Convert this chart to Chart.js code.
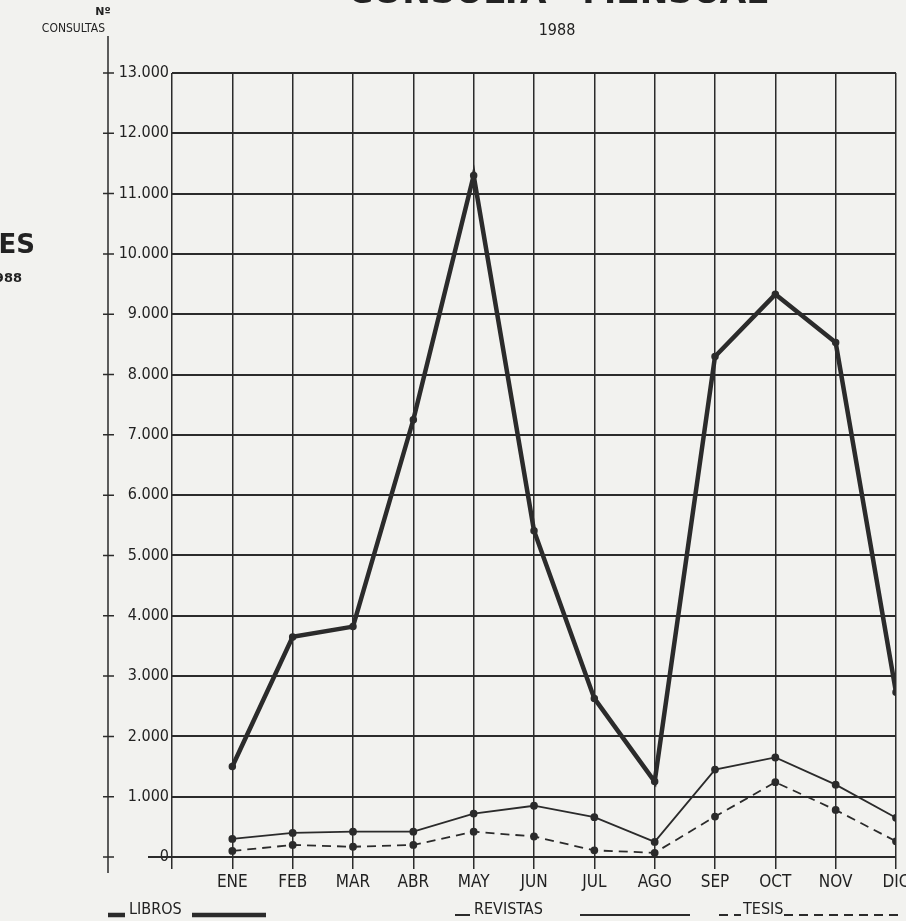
<!DOCTYPE html>
<html>
<head>
<meta charset="utf-8">
<script src="https://cdn.jsdelivr.net/npm/chart.js@4.4.0/dist/chart.umd.min.js"></script>
<style>
  html, body { margin: 0; padding: 0; background: #f2f2ef; }
  #caja { position: relative; width: 906px; height: 921px; }
</style>
</head>
<body>
<div id="caja"><canvas id="grafica"></canvas></div>
<script>
// Datos (consultas por mes, 1988)
const meses = ['ENE', 'FEB', 'MAR', 'ABR', 'MAY', 'JUN', 'JUL', 'AGO', 'SEP', 'OCT', 'NOV', 'DIC'];
const libros = [1500, 3650, 3820, 7250, 11300, 5410, 2630, 1250, 8300, 9330, 8530, 2730];
const revistas = [300, 400, 420, 420, 720, 850, 660, 250, 1450, 1650, 1200, 650];
const tesis = [100, 200, 170, 200, 420, 340, 110, 70, 670, 1240, 780, 260];
const etiquetasY = ['0', '1.000', '2.000', '3.000', '4.000', '5.000', '6.000', '7.000',
                    '8.000', '9.000', '10.000', '11.000', '12.000', '13.000'];

const tinta = '#2b2b2b';
const letra = '"Liberation Sans Narrow", "DejaVu Sans Condensed", "Liberation Sans", sans-serif';

// Convierte una serie en puntos {x, y} (x = número de mes)
function aPuntos(serie) {
    return serie.map((v, i) => ({ x: i + 1, y: v }));
}

// Textos sueltos, eje vertical separado y leyenda dibujada a mano
const decoracion = {
    id: 'decoracion',
    beforeDraw(chart) {
        const ctx = chart.ctx;
        ctx.save();
        ctx.fillStyle = '#f2f2ef';
        ctx.fillRect(0, 0, chart.width, chart.height);
        ctx.restore();
    },
    afterDraw(chart) {
        const ctx = chart.ctx;
        const ejeY = chart.scales.y;
        const area = chart.chartArea;
        ctx.save();
        ctx.strokeStyle = tinta;
        ctx.fillStyle = '#222';

        // eje vertical con sus cruces
        ctx.lineWidth = 1.5;
        ctx.beginPath();
        ctx.moveTo(108, 36);
        ctx.lineTo(108, 873);
        ejeY.ticks.forEach(t => {
            const py = ejeY.getPixelForValue(t.value);
            ctx.moveTo(103, py);
            ctx.lineTo(114, py);
        });
        ctx.stroke();

        // prolongación de la línea del cero
        ctx.lineWidth = 2;
        ctx.beginPath();
        const y0 = ejeY.getPixelForValue(0);
        ctx.moveTo(148, y0);
        ctx.lineTo(area.left, y0);
        ctx.stroke();

        // título (cortado por el borde superior)
        ctx.save();
        ctx.font = 'bold 34px "DejaVu Sans", sans-serif';
        ctx.textBaseline = 'alphabetic';
        ctx.textAlign = 'left';
        const titulo = 'CONSULTA   MENSUAL';
        const ancho = ctx.measureText(titulo).width;
        ctx.translate(348, 3);
        ctx.scale(420 / ancho, 1);
        ctx.fillText(titulo, 0, 0);
        ctx.restore();

        ctx.textBaseline = 'middle';
        ctx.textAlign = 'center';
        ctx.font = '16px ' + letra;
        ctx.fillText('1988', 557, 31);

        ctx.font = 'bold 11px "DejaVu Sans", sans-serif';
        ctx.fillText('Nº', 103, 12);
        ctx.font = '12px ' + letra;
        ctx.textAlign = 'right';
        ctx.fillText('CONSULTAS', 105, 29);

        // restos de la página vecina
        ctx.font = 'bold 26px "DejaVu Sans", sans-serif';
        ctx.fillText('ES', 35, 246);
        ctx.font = 'bold 13px "DejaVu Sans", sans-serif';
        ctx.fillText('1988', 22, 279);

        // leyenda
        const entradas = [
            { ds: 0, corta: [108, 125], texto: 129, larga: [192, 266] },
            { ds: 1, corta: [455, 470], texto: 474, larga: [580, 690] },
            { ds: 2, corta: [719, 741], texto: 743, larga: [784, 900] }
        ];
        ctx.font = '16px ' + letra;
        ctx.textAlign = 'left';
        entradas.forEach(e => {
            const d = chart.data.datasets[e.ds];
            ctx.lineWidth = d.borderWidth;
            ctx.strokeStyle = d.borderColor;
            ctx.setLineDash(d.borderDash || []);
            ctx.beginPath();
            ctx.moveTo(e.corta[0], 915);
            ctx.lineTo(e.corta[1], 915);
            ctx.moveTo(e.larga[0], 915);
            ctx.lineTo(e.larga[1], 915);
            ctx.stroke();
            ctx.setLineDash([]);
            ctx.fillText(d.label, e.texto, 910);
        });
        ctx.restore();
    }
};

const ctx = document.getElementById('grafica').getContext('2d');
new Chart(ctx, {
    type: 'line',
    data: {
        datasets: [
            {
                label: 'LIBROS',
                data: aPuntos(libros),
                borderColor: tinta,
                backgroundColor: tinta,
                borderWidth: 4.5,
                pointRadius: 1.5,
                tension: 0
            },
            {
                label: 'REVISTAS',
                data: aPuntos(revistas),
                borderColor: tinta,
                backgroundColor: tinta,
                borderWidth: 1.8,
                pointRadius: 3,
                tension: 0
            },
            {
                label: 'TESIS',
                data: aPuntos(tesis),
                borderColor: tinta,
                backgroundColor: tinta,
                borderWidth: 1.8,
                borderDash: [9, 6],
                pointRadius: 3,
                tension: 0
            }
        ]
    },
    options: {
        responsive: true,
        maintainAspectRatio: false,
        animation: false,
        layout: { padding: { left: 105, top: 73, right: 10, bottom: 0 } },
        plugins: {
            legend: { display: false },
            tooltip: { enabled: false }
        },
        scales: {
            x: {
                type: 'linear',
                min: 0,
                max: 12,
                afterBuildTicks: scale => {
                    scale.ticks = [0, 1, 2, 3, 4, 5, 6, 7, 8, 9, 10, 11, 12].map(v => ({ value: v }));
                },
                afterFit: scale => {
                    scale.height = 64;
                    scale.paddingLeft = 0;
                    scale.paddingRight = 0;
                },
                ticks: {
                    autoSkip: false,
                    maxRotation: 0,
                    padding: 3,
                    color: '#222',
                    font: { family: letra, size: 17 },
                    callback: v => meses[v - 1] || ''
                },
                grid: { color: tinta, lineWidth: 1.5, drawTicks: true, tickLength: 12 },
                border: { display: false }
            },
            y: {
                min: 0,
                max: 13000,
                afterFit: scale => {
                    scale.width = 67;
                    scale.paddingTop = 0;
                    scale.paddingBottom = 0;
                },
                ticks: {
                    stepSize: 1000,
                    padding: 3,
                    color: '#222',
                    font: { family: letra, size: 16 },
                    callback: v => etiquetasY[Math.round(v / 1000)]
                },
                grid: { color: tinta, lineWidth: 2, drawTicks: false },
                border: { display: false }
            }
        }
    },
    plugins: [decoracion]
});
</script>
</body>
</html>
